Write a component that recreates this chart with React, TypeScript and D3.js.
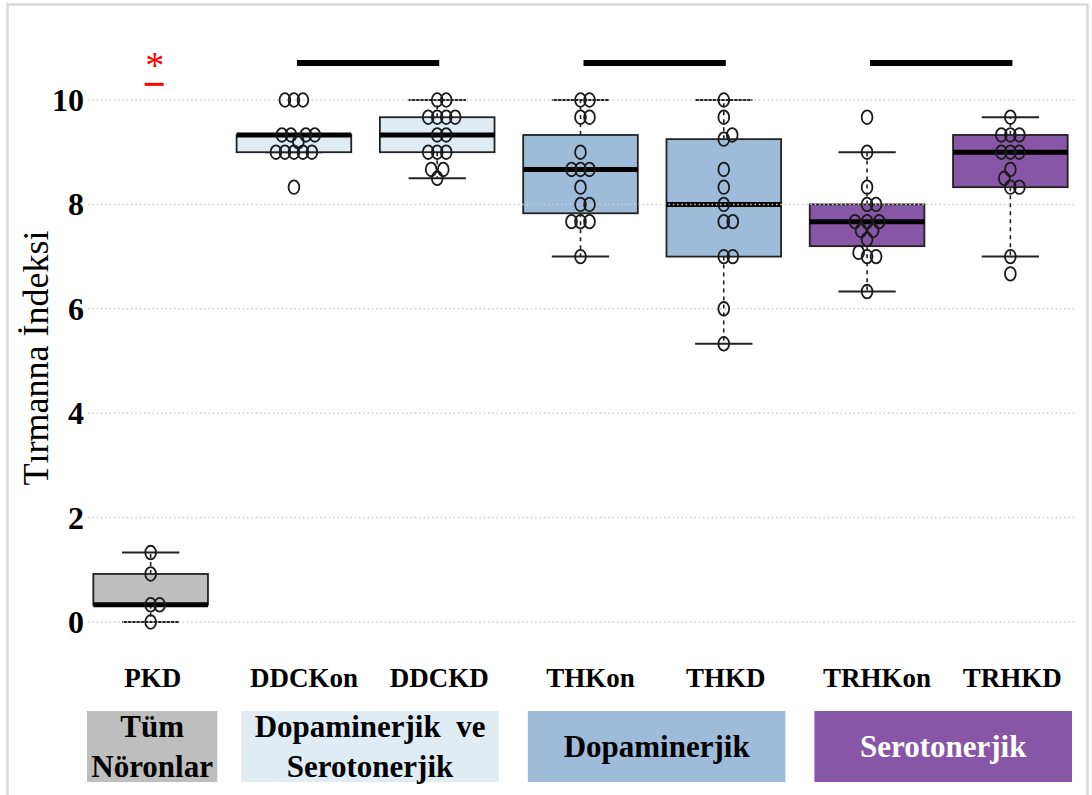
import React from 'react';
import * as d3 from 'd3';

// climbing index per group
const categories = ['PKD', 'DDCKon', 'DDCKD', 'THKon', 'THKD', 'TRHKon', 'TRHKD'];
const whiskerLow = [0, 9.0, 8.5, 7.0, 5.33, 6.33, 7.0];
const lowerQuartile = [0.33, 9.0, 9.0, 7.83, 7.0, 7.2, 8.33];
const medians = [0.33, 9.33, 9.33, 8.67, 8.0, 7.67, 9.0];
const upperQuartile = [0.92, 9.33, 9.67, 9.33, 9.25, 8.0, 9.33];
const whiskerHigh = [1.33, 9.33, 10, 10, 10, 9.0, 9.67];

const observations = [
  [0, 0.33, 0.33, 0.92, 1.33],
  [8.33, 9, 9, 9, 9, 9, 9.2, 9.33, 9.33, 9.33, 9.33, 10, 10, 10],
  [8.5, 8.67, 8.67, 9, 9, 9, 9.33, 9.33, 9.67, 9.67, 9.67, 9.67, 10, 10],
  [7.0, 7.67, 7.67, 7.67, 8.0, 8.0, 8.33, 8.67, 8.67, 8.67, 9.0, 9.67, 9.67, 10, 10],
  [5.33, 6.0, 7.0, 7.0, 7.67, 7.67, 8.0, 8.33, 8.67, 9.25, 9.33, 9.67, 10],
  [6.33, 7.0, 7.0, 7.08, 7.33, 7.5, 7.5, 7.67, 7.67, 7.67, 8.0, 8.0, 8.33, 9.0, 9.67],
  [6.67, 7.0, 8.33, 8.33, 8.5, 8.67, 9.0, 9.0, 9.0, 9.33, 9.33, 9.33, 9.67],
];

const yTicks = [0, 2, 4, 6, 8, 10];
const yLabel = 'Tırmanna İndeksi';

const groupLabels = [['Tüm', 'Nöronlar'], ['Dopaminerjik  ve', 'Serotonerjik'], ['Dopaminerjik'], ['Serotonerjik']];
const groupFirst = [0, 1, 3, 5];
const groupLast = [0, 2, 4, 6];

const comparisons = [[1, 2], [3, 4], [5, 6]];
const comparisonLevel = 10.71;
const starCategory = 0;

const boxColors = ['#bebebe', '#e0ecf4', '#e0ecf4', '#9ebcda', '#9ebcda', '#8856a7', '#8856a7'];
const groupColors = ['#bebebe', '#e0ecf4', '#9ebcda', '#8856a7'];
const groupTextColors = ['#000', '#000', '#000', '#fff'];

const W = 1092;
const H = 795;
const FONT = "'Liberation Serif', 'Times New Roman', serif";

function swarm(values: number[], y: (v: number) => number, sx: number, sy: number) {
  const sorted = values.map((v) => ({ v, py: y(v) })).sort((a, b) => a.v - b.v);
  const placed: { x: number; py: number }[] = [];
  for (const p of sorted) {
    const near = placed.filter((q) => Math.abs(q.py - p.py) < sy);
    const cands = [0];
    near.forEach((q) => {
      const dy = q.py - p.py;
      const w = sx * Math.sqrt(1 - (dy / sy) ** 2);
      cands.push(q.x + w, q.x - w);
    });
    const ok = cands.filter((c) =>
      near.every((q) => ((c - q.x) / sx) ** 2 + ((q.py - p.py) / sy) ** 2 >= 0.999)
    );
    ok.sort((a, b) => {
      const d = Math.abs(a) - Math.abs(b);
      return Math.abs(d) > 1e-6 ? d : b - a;
    });
    placed.push({ x: ok[0], py: p.py });
  }
  return placed;
}

export default function App() {
  const x = d3.scaleBand<string>().domain(categories).range([79, 1082]).paddingInner(0.2).paddingOuter(0.1);
  const y = d3.scaleLinear().domain([0, 10]).range([622, 100]);
  const step = x.step();
  const bw = step * 0.8;
  const cx = (c: string) => (x(c) as number) + x.bandwidth() / 2;
  const capW = bw / 2;
  const gridX0 = 88;
  const gridX1 = 1075;

  return (
    <svg width={W} height={H} style={{ position: 'absolute', left: 0, top: 0 }} fontFamily={FONT}>
      <rect x={0} y={0} width={W} height={H} fill="#fff" />
      <rect x={7.5} y={4.5} width={1080} height={820} fill="none" stroke="#d9d9d9" strokeWidth={2.5} />

      {/* boxes */}
      {categories.map((c, i) => {
        const m = cx(c);
        return (
          <g key={c}>
            <line x1={m} x2={m} y1={y(upperQuartile[i])} y2={y(whiskerHigh[i])} stroke="#222" strokeWidth={1.6} strokeDasharray="4,4" />
            <line x1={m} x2={m} y1={y(lowerQuartile[i])} y2={y(whiskerLow[i])} stroke="#222" strokeWidth={1.6} strokeDasharray="4,4" />
            <line x1={m - capW / 2} x2={m + capW / 2} y1={y(whiskerHigh[i])} y2={y(whiskerHigh[i])} stroke="#222" strokeWidth={2} />
            <line x1={m - capW / 2} x2={m + capW / 2} y1={y(whiskerLow[i])} y2={y(whiskerLow[i])} stroke="#222" strokeWidth={2} />
            <rect x={m - bw / 2} y={y(upperQuartile[i])} width={bw} height={y(lowerQuartile[i]) - y(upperQuartile[i])} fill={boxColors[i]} stroke="#222" strokeWidth={1.8} />
            <line x1={m - bw / 2} x2={m + bw / 2} y1={y(medians[i])} y2={y(medians[i])} stroke="#000" strokeWidth={5} />
          </g>
        );
      })}

      {/* grid */}
      {yTicks.map((t) => (
        <line key={t} x1={gridX0} x2={gridX1} y1={y(t)} y2={y(t)} stroke="#cfcfcf" strokeWidth={1.5} strokeDasharray="1.5,2.8" />
      ))}

      {/* points */}
      {categories.map((c, i) => {
        const m = cx(c);
        return swarm(observations[i], y, 9, 12).map((p, j) => (
          <ellipse key={c + j} cx={m + p.x} cy={p.py} rx={5.4} ry={6.8} fill="none" stroke="#1a1a1a" strokeWidth={1.8} />
        ));
      })}

      {/* y axis labels */}
      {yTicks.map((t) => (
        <text key={t} x={84} y={y(t)} textAnchor="end" dominantBaseline="central" fontSize={32} fontWeight="bold">
          {t}
        </text>
      ))}
      <text transform={`translate(48,${(y(4) + y(6)) / 2 - 3}) rotate(-90)`} textAnchor="middle" fontSize={36}>
        {yLabel}
      </text>

      {/* significance */}
      {comparisons.map(([a, b]) => (
        <line key={a} x1={cx(categories[a]) + 3} x2={cx(categories[b]) + 2} y1={y(comparisonLevel)} y2={y(comparisonLevel)} stroke="#000" strokeWidth={6} />
      ))}
      <text x={cx(categories[starCategory]) + 4} y={y(comparisonLevel) + 15} textAnchor="middle" fontSize={38} fill="#ff0000">
        *
      </text>
      <line x1={cx(categories[starCategory]) - 6} x2={cx(categories[starCategory]) + 13} y1={y(10.3)} y2={y(10.3)} stroke="#ff0000" strokeWidth={3} />

      {/* category labels */}
      {categories.map((c) => (
        <text key={c} x={cx(c) + (c.endsWith('on') ? 10 : 2)} y={687} textAnchor="middle" fontSize={27} fontWeight="bold">
          {c}
        </text>
      ))}

      {/* group boxes */}
      {groupLabels.map((lines, g) => {
        const n = groupLast[g] - groupFirst[g] + 1;
        const x0 = (x(categories[groupFirst[g]]) as number) - step * 0.1 + 8 + 11 * (n - 1);
        const x1 = (x(categories[groupLast[g]]) as number) + x.bandwidth() + step * 0.1 - 5 * n;
        const top = 711;
        const bottom = 782;
        const mid = (top + bottom) / 2;
        return (
          <g key={g}>
            <rect x={x0} y={top} width={x1 - x0} height={bottom - top} fill={groupColors[g]} />
            {lines.map((l, k) => (
              <text
                key={k}
                x={(x0 + x1) / 2}
                y={mid + 10 + (k - (lines.length - 1) / 2) * 40}
                textAnchor="middle"
                fontSize={31}
                fontWeight="bold"
                fill={groupTextColors[g]}
                style={{ whiteSpace: 'pre' }}
              >
                {l}
              </text>
            ))}
          </g>
        );
      })}
    </svg>
  );
}
